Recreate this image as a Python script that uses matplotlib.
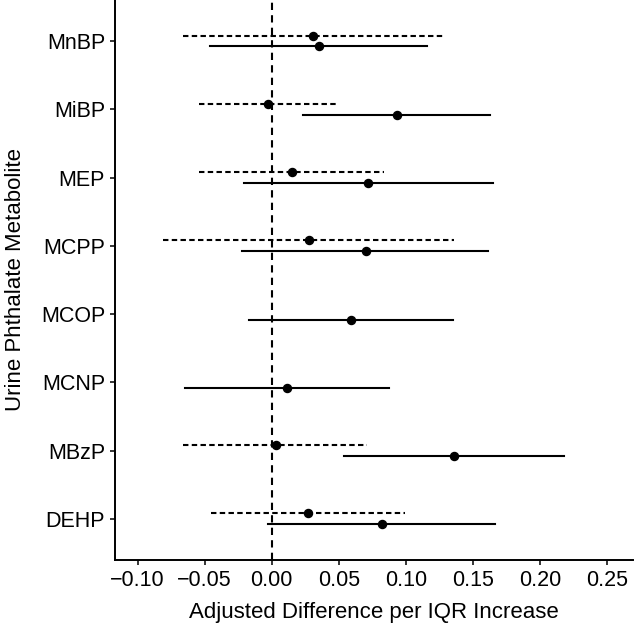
import matplotlib
matplotlib.use("Agg")
import matplotlib.pyplot as plt
import numpy as np

plt.rcParams["font.family"] = ["Liberation Sans", "DejaVu Sans"]

metabolites = ["DEHP", "MBzP", "MCNP", "MCOP", "MCPP", "MEP", "MiBP", "MnBP"]

# dashed series (None where not reported)
dashed_est = [0.027, 0.003, None, None, 0.028, 0.015, -0.003, 0.031]
dashed_lo = [-0.045, -0.066, None, None, -0.081, -0.054, -0.054, -0.066]
dashed_hi = [0.099, 0.071, None, None, 0.136, 0.084, 0.050, 0.129]

# solid series
solid_est = [0.082, 0.136, 0.011, 0.059, 0.070, 0.072, 0.093, 0.035]
solid_lo = [-0.003, 0.054, -0.065, -0.017, -0.022, -0.021, 0.023, -0.046]
solid_hi = [0.166, 0.218, 0.087, 0.135, 0.161, 0.165, 0.163, 0.116]

offset = 0.08

fig = plt.figure(figsize=(6.34, 6.29), dpi=100)
ax = fig.add_axes([0.181, 0.110, 0.817, 0.890])

ax.axvline(0, color="black", linestyle=(0, (3.5, 2.5)), linewidth=1.5, zorder=1)

ypos = np.arange(1, len(metabolites) + 1)
for y, est, lo, hi in zip(ypos, dashed_est, dashed_lo, dashed_hi):
    if est is None:
        continue
    ax.plot([lo, hi], [y + offset, y + offset], color="black",
            linestyle=(0, (2.6, 1.6)), linewidth=1.5, zorder=2)
    ax.plot(est, y + offset, "o", color="black", markersize=5.8, zorder=3)

for y, est, lo, hi in zip(ypos, solid_est, solid_lo, solid_hi):
    ax.plot([lo, hi], [y - offset, y - offset], color="black",
            linewidth=1.5, zorder=2)
    ax.plot(est, y - offset, "o", color="black", markersize=5.8, zorder=3)

ax.set_xlim(-0.117, 0.269)
ax.set_ylim(0.4, 8.6)
ax.set_xticks([-0.10, -0.05, 0.00, 0.05, 0.10, 0.15, 0.20, 0.25])
ax.set_xticklabels(["−0.10", "−0.05", "0.00", "0.05", "0.10", "0.15", "0.20", "0.25"])
ax.set_yticks(ypos)
ax.set_yticklabels(metabolites)

for side in ["top", "right"]:
    ax.spines[side].set_visible(False)
for side in ["left", "bottom"]:
    ax.spines[side].set_linewidth(1.4)

ax.tick_params(axis="both", labelsize=15.5, length=3.5, width=1.1, color="black", pad=3.5)
ax.set_xlabel("Adjusted Difference per IQR Increase", fontsize=16)
ax.set_ylabel("Urine Phthalate Metabolite", fontsize=16)
ax.xaxis.set_label_coords(0.5, -0.075)
ax.yaxis.set_label_coords(-0.172, 0.5)

fig.savefig("out.png", dpi=100)
